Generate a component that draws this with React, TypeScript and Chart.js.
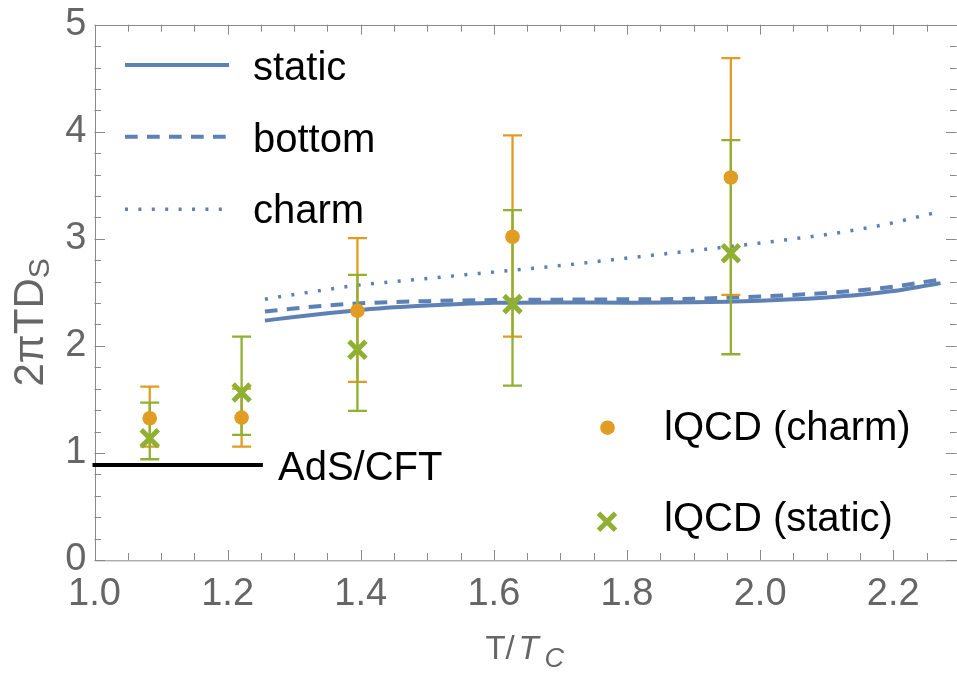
import { useEffect, useRef } from 'react';
import { Chart, registerables } from 'chart.js';

Chart.register(...registerables);

// Diffusion curves (T/Tc vs 2πT·Ds)
const curveT = [1.256, 1.3, 1.35, 1.4, 1.45, 1.5, 1.55, 1.6, 1.7, 1.8, 1.9, 1.95, 2.0, 2.05, 2.1, 2.15, 2.2, 2.25, 2.271];
const staticCurve = [2.236, 2.27, 2.305, 2.335, 2.36, 2.378, 2.392, 2.402, 2.406, 2.404, 2.407, 2.413, 2.422, 2.435, 2.453, 2.478, 2.512, 2.563, 2.586];
const bottomCurve = [2.321, 2.35, 2.378, 2.398, 2.41, 2.418, 2.424, 2.428, 2.432, 2.435, 2.44, 2.45, 2.462, 2.476, 2.494, 2.52, 2.553, 2.6, 2.62];
const charmCurve = [2.436, 2.48, 2.527, 2.57, 2.6, 2.63, 2.66, 2.69, 2.75, 2.82, 2.89, 2.925, 2.96, 3.0, 3.04, 3.09, 3.15, 3.225, 3.255];

// AdS/CFT reference value
const adsT = [1.0, 1.25];
const adsValue = 0.888;

// Lattice QCD points with error ranges
const latticeT = [1.083, 1.221, 1.395, 1.628, 1.956];
const charmMean = [1.324, 1.33, 2.327, 3.019, 3.573];
const charmLow = [1.059, 1.059, 1.664, 2.087, 2.477];
const charmHigh = [1.62, 1.6, 3.006, 3.966, 4.688];
const staticMean = [1.137, 1.564, 1.963, 2.39, 2.866];
const staticLow = [0.941, 1.168, 1.393, 1.629, 1.922];
const staticHigh = [1.47, 2.087, 2.664, 3.268, 3.922];

// Axis ticks
const xTickValues = [1.0, 1.2, 1.4, 1.6, 1.8, 2.0, 2.2];
const yTickValues = [0, 1, 2, 3, 4, 5];
const xMinorStep = 0.05;
const yMinorStep = 0.2;
const xRange = [1.0, 2.295];
const yRange = [0, 5];

const BLUE = '#5E81B5';
const ORANGE = '#E19C24';
const GREEN = '#8FB032';
const FRAME = '#8a8a8a';
const TICK_TEXT = '#666666';
const FONT = '"Liberation Sans", Arial, Helvetica, sans-serif';

const DASH = [12.7, 9.3];
const DOT = [3, 10.4];

const framePlugin = {
  id: 'frameTicks',
  beforeDatasetsDraw(chart: any) {
    const { ctx, chartArea: a } = chart;
    const xs = chart.scales.x;
    const ys = chart.scales.y;
    ctx.save();
    ctx.strokeStyle = FRAME;
    ctx.lineWidth = 1;
    ctx.strokeRect(Math.round(a.left) + 0.5, Math.round(a.top) + 0.5, a.right - a.left, a.bottom - a.top);
    ctx.beginPath();
    const nx = Math.round((xRange[1] - xRange[0]) / xMinorStep);
    for (let i = 0; i <= nx; i++) {
      const v = xRange[0] + i * xMinorStep;
      if (v > xRange[1]) break;
      const major = xTickValues.some((t) => Math.abs(t - v) < 1e-6);
      const len = major ? 10 : 7;
      const px = Math.round(xs.getPixelForValue(v)) + 0.5;
      ctx.moveTo(px, a.bottom);
      ctx.lineTo(px, a.bottom - len);
      ctx.moveTo(px, a.top);
      ctx.lineTo(px, a.top + len);
    }
    const ny = Math.round((yRange[1] - yRange[0]) / yMinorStep);
    for (let i = 0; i <= ny; i++) {
      const v = yRange[0] + i * yMinorStep;
      const major = yTickValues.some((t) => Math.abs(t - v) < 1e-6);
      const len = major ? 10.5 : 6.5;
      const py = Math.round(ys.getPixelForValue(v)) + 0.5;
      ctx.moveTo(a.left, py);
      ctx.lineTo(a.left + len, py);
      ctx.moveTo(a.right, py);
      ctx.lineTo(a.right - len, py);
    }
    ctx.stroke();
    ctx.restore();
  },
};

const errorBarPlugin = {
  id: 'errorBars',
  beforeDatasetDraw(chart: any, args: any) {
    if (args.index !== 1) return;
    const { ctx } = chart;
    const xs = chart.scales.x;
    const ys = chart.scales.y;
    const draw = (lows: number[], highs: number[], color: string) => {
      ctx.save();
      ctx.strokeStyle = color;
      ctx.lineWidth = 2.3;
      latticeT.forEach((t, i) => {
        const px = xs.getPixelForValue(t);
        const top = ys.getPixelForValue(highs[i]);
        const bot = ys.getPixelForValue(lows[i]);
        ctx.beginPath();
        ctx.moveTo(px, top);
        ctx.lineTo(px, bot);
        ctx.moveTo(px - 9.5, top);
        ctx.lineTo(px + 9.5, top);
        ctx.moveTo(px - 9.5, bot);
        ctx.lineTo(px + 9.5, bot);
        ctx.stroke();
      });
      ctx.restore();
    };
    draw(charmLow, charmHigh, ORANGE);
    draw(staticLow, staticHigh, GREEN);
  },
};

const labelsPlugin = {
  id: 'labels',
  afterDraw(chart: any) {
    const { ctx, chartArea: a } = chart;
    ctx.save();

    // curve legend (top left)
    const lines = [
      { label: 'static', dash: [] as number[], y: 65, base: 79.5 },
      { label: 'bottom', dash: DASH, y: 136.7, base: 151.7 },
      { label: 'charm', dash: DOT, y: 209.3, base: 222.7 },
    ];
    lines.forEach((l) => {
      ctx.strokeStyle = BLUE;
      ctx.lineWidth = l.dash === DOT ? 3.5 : 4;
      ctx.setLineDash(l.dash);
      ctx.beginPath();
      ctx.moveTo(125, l.y);
      ctx.lineTo(229, l.y);
      ctx.stroke();
      ctx.setLineDash([]);
      ctx.fillStyle = '#000';
      ctx.font = `40px ${FONT}`;
      ctx.textBaseline = 'alphabetic';
      ctx.textAlign = 'left';
      ctx.fillText(l.label, 253, l.base);
    });

    // lattice legend (bottom right)
    ctx.fillStyle = ORANGE;
    ctx.beginPath();
    ctx.arc(607.5, 427.7, 7.3, 0, Math.PI * 2);
    ctx.fill();
    ctx.strokeStyle = GREEN;
    ctx.lineWidth = 5;
    const cx = 607, cy = 521.7, h = 8.5;
    ctx.beginPath();
    ctx.moveTo(cx - h, cy - h);
    ctx.lineTo(cx + h, cy + h);
    ctx.moveTo(cx + h, cy - h);
    ctx.lineTo(cx - h, cy + h);
    ctx.stroke();
    ctx.fillStyle = '#000';
    ctx.font = `40px ${FONT}`;
    ctx.fillText('lQCD (charm)', 664, 440);
    ctx.fillText('lQCD (static)', 664, 531);

    // AdS/CFT tag
    ctx.fillText('AdS/CFT', 278, 479.5);

    // x axis title: T/T_C
    const mid = (a.left + a.right) / 2;
    ctx.fillStyle = TICK_TEXT;
    ctx.font = `33px ${FONT}`;
    ctx.fillText('T', mid - 40, 659);
    ctx.fillText('/', mid - 20, 659);
    ctx.font = `italic 33px ${FONT}`;
    ctx.fillText('T', mid - 7, 659);
    ctx.font = `italic 27px ${FONT}`;
    ctx.fillText('C', mid + 19, 667);

    // y axis title: 2πTD_S
    ctx.translate(43, (a.top + a.bottom) / 2 + 30);
    ctx.rotate(-Math.PI / 2);
    ctx.font = `42px ${FONT}`;
    const main = '2\u03c0TD';
    const wMain = ctx.measureText(main).width;
    ctx.font = `30px ${FONT}`;
    const wSub = ctx.measureText('S').width;
    const start = -(wMain + wSub) / 2;
    ctx.font = `42px ${FONT}`;
    ctx.fillText(main, start, 0);
    ctx.font = `30px ${FONT}`;
    ctx.fillText('S', start + wMain, 6);

    ctx.restore();
  },
};

const toPoints = (xs: number[], ys: number[]) => xs.map((x, i) => ({ x, y: ys[i] }));

export default function App() {
  const canvasRef = useRef<HTMLCanvasElement | null>(null);

  useEffect(() => {
    const canvas = canvasRef.current;
    if (!canvas) return;
    const chart = new Chart(canvas, {
      type: 'scatter',
      data: {
        datasets: [
          {
            label: 'lQCD (static)',
            data: toPoints(latticeT, staticMean),
            pointStyle: 'crossRot',
            pointRadius: 12,
            pointBorderWidth: 5,
            borderWidth: 5,
            borderColor: GREEN,
            backgroundColor: GREEN,
            showLine: false,
          },
          {
            label: 'lQCD (charm)',
            data: toPoints(latticeT, charmMean),
            pointStyle: 'circle',
            pointRadius: 7.3,
            borderWidth: 0,
            backgroundColor: ORANGE,
            borderColor: ORANGE,
            showLine: false,
          },
          {
            type: 'line',
            label: 'AdS/CFT',
            data: toPoints(adsT, adsT.map(() => adsValue)),
            borderColor: '#000',
            borderWidth: 4,
            borderCapStyle: 'square',
            pointRadius: 0,
            clip: false,
          },
          {
            type: 'line',
            label: 'charm',
            data: toPoints(curveT, charmCurve),
            borderColor: BLUE,
            borderWidth: 3.5,
            borderDash: DOT,
            pointRadius: 0,
            cubicInterpolationMode: 'monotone',
          },
          {
            type: 'line',
            label: 'bottom',
            data: toPoints(curveT, bottomCurve),
            borderColor: BLUE,
            borderWidth: 4,
            borderDash: DASH,
            pointRadius: 0,
            cubicInterpolationMode: 'monotone',
          },
          {
            type: 'line',
            label: 'static',
            data: toPoints(curveT, staticCurve),
            borderColor: BLUE,
            borderWidth: 4,
            pointRadius: 0,
            cubicInterpolationMode: 'monotone',
          },
        ] as any,
      },
      options: {
        animation: false,
        responsive: false,
        devicePixelRatio: 1,
        layout: { autoPadding: false, padding: { left: 0, top: 24.7, right: 0.5, bottom: 0 } },
        plugins: { legend: { display: false }, tooltip: { enabled: false } },
        events: [],
        scales: {
          x: {
            type: 'linear',
            min: xRange[0],
            max: xRange[1],
            grid: { display: false, drawTicks: false },
            border: { display: false },
            afterBuildTicks: (s: any) => {
              s.ticks = xTickValues.map((value) => ({ value }));
            },
            afterFit: (s: any) => {
              s.height = 116;
              s.paddingLeft = 0;
              s.paddingRight = 0;
            },
            ticks: {
              autoSkip: false,
              maxRotation: 0,
              padding: 12,
              color: TICK_TEXT,
              font: { family: FONT, size: 38 },
              callback: (v: any) => Number(v).toFixed(1),
            },
          },
          y: {
            type: 'linear',
            min: yRange[0],
            max: yRange[1],
            grid: { display: false, drawTicks: false },
            border: { display: false },
            afterBuildTicks: (s: any) => {
              s.ticks = yTickValues.map((value) => ({ value }));
            },
            afterFit: (s: any) => {
              s.width = 94.5;
              s.paddingTop = 0;
              s.paddingBottom = 0;
            },
            ticks: {
              autoSkip: false,
              padding: 8,
              color: TICK_TEXT,
              font: { family: FONT, size: 38 },
              callback: (v: any) => String(v),
            },
          },
        },
      },
      plugins: [framePlugin, errorBarPlugin, labelsPlugin],
    });
    return () => chart.destroy();
  }, []);

  return (
    <div style={{ position: 'fixed', left: 0, top: 0, width: 957, height: 676, background: '#fff' }}>
      <canvas ref={canvasRef} width={957} height={676} style={{ width: 957, height: 676, display: 'block' }} />
    </div>
  );
}
